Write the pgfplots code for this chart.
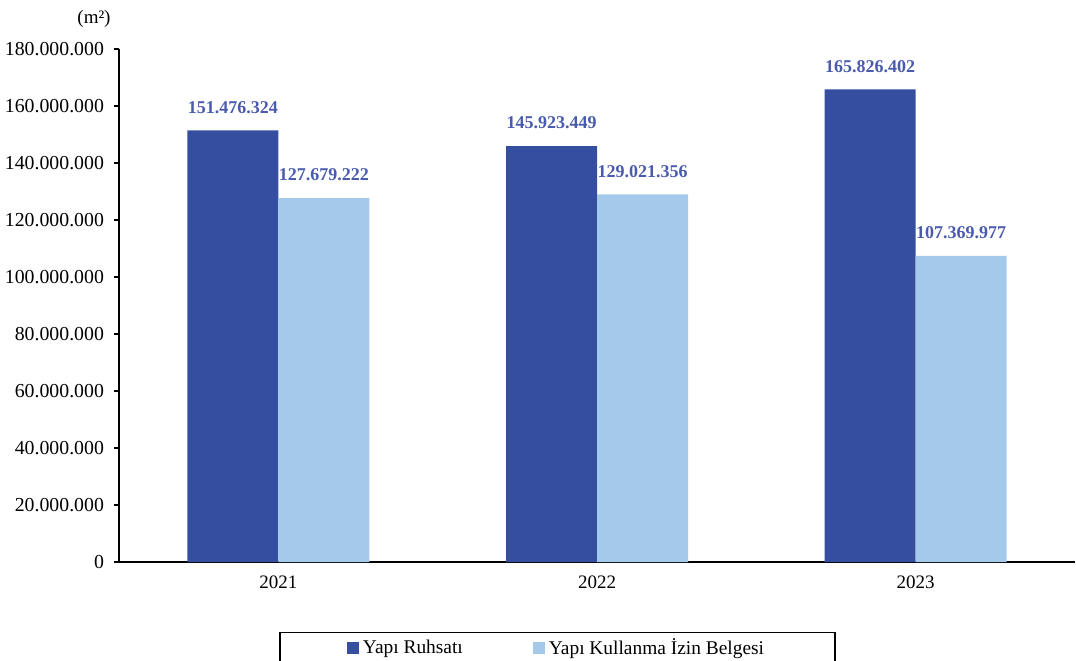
\documentclass[border=0pt]{standalone}
\usepackage{fontspec}
\setmainfont{Liberation Serif}
\usepackage{pgfplots}
\pgfplotsset{compat=1.18}
\definecolor{darkbar}{HTML}{354EA0}
\definecolor{lightbar}{HTML}{A4C9EB}
\definecolor{labelblue}{HTML}{4A5BAE}
\begin{document}
\begin{tikzpicture}
\begin{axis}[
  at={(59.5pt,49pt)}, anchor=south west,
  scale only axis, width=478pt, height=256.5pt,
  xmin=-0.5, xmax=2.5, ymin=0, ymax=180000000,
  axis x line*=bottom, axis y line*=left,
  axis line style={black, line width=0.7pt},
  ybar=0pt, bar width=45.5pt,
  xtick={0,1,2}, xticklabels={2021,2022,2023},
  x tick style={draw=none},
  extra x ticks={-0.5,0.5,1.5,2.5}, extra x tick labels={},
  extra x tick style={tick style={draw=black, line width=0.7pt}, major tick length=3pt},
  ytick={0,20000000,...,180000000},
  y tick style={black, line width=0.7pt},
  tick align=outside, major tick length=2.5pt,
  scaled y ticks=false,
  yticklabel style={/pgf/number format/fixed, /pgf/number format/precision=0, /pgf/number format/1000 sep={.}, /pgf/number format/assume math mode=true},
  y tick label style={font=\fontsize{9.9}{11}\selectfont, xshift=-1.5pt},
  x tick label style={font=\fontsize{9.5}{11}\selectfont, yshift=-1pt},
  point meta=explicit symbolic,
  nodes near coords,
  every node near coord/.append style={font=\fontsize{9}{11}\selectfont\bfseries, text=labelblue, anchor=center, yshift=11.5pt},
  legend style={at={(0.4587,-0.1365)}, anchor=north, legend columns=2, draw=black, line width=0.7pt,
    font=\fontsize{9.7}{11}\selectfont, inner xsep=33.5pt, inner ysep=1pt,
    /tikz/every even column/.append style={column sep=33pt}},
  legend image code/.code={\fill[#1,draw=none] (0pt,-3pt) rectangle (6pt,3pt);},
]
\addplot[fill=darkbar, draw=none] coordinates {(0,151476324) [151.476.324] (1,145923449) [145.923.449] (2,165826402) [165.826.402]};
\addplot[fill=lightbar, draw=none] coordinates {(0,127679222) [127.679.222] (1,129021356) [129.021.356] (2,107369977) [107.369.977]};
\legend{Yapı Ruhsatı, Yapı Kullanma İzin Belgesi}
\end{axis}
\node[font=\fontsize{9.5}{11}\selectfont] at (47pt,320.5pt) {(m²)};
\pgfresetboundingbox
\useasboundingbox (0,0) rectangle (538pt,330pt);
\end{tikzpicture}
\end{document}
